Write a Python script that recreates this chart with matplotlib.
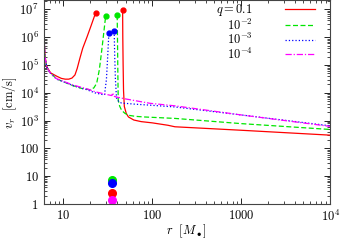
import matplotlib
matplotlib.use('Agg')
import matplotlib.pyplot as plt
from matplotlib.ticker import FixedLocator, LogLocator, NullFormatter

plt.rcParams['mathtext.fontset'] = 'cm'
plt.rcParams['font.family'] = 'serif'
plt.rcParams['font.size'] = 8

# q = 0.1 : inner and outer branches
r_q1_in = [6.0, 6.06, 6.2, 6.5, 7.2, 8.5, 9.5, 10.5, 11.5, 12.5, 13.5, 14.3, 15.3, 16.5, 18.4, 20.5, 23.1]
v_q1_in = [2e7, 1e6, 2.2e5, 8.5e4, 5.2e4, 3.9e4, 3.3e4, 3.1e4, 3.1e4, 3.4e4, 4.4e4, 7.5e4, 1.7e5, 4.0e5, 1.0e6, 2.6e6, 7.7e6]
r_q1_out = [46.4, 46.6, 47.0, 47.5, 48.5, 51, 54, 62, 75, 100, 150, 180, 1000, 1e4]
v_q1_out = [9.2e6, 1e6, 1e5, 1.2e4, 3.2e3, 1.8e3, 1.35e3, 1.05e3, 920, 830, 680, 600, 450, 300]

# q = 1e-2
r_q2_in = [6.0, 6.08, 6.2, 6.5, 7.0, 8.4, 10, 12.9, 16.5, 19.9, 22.0, 23.7, 25.3, 26.2, 27.5, 29.9]
v_q2_in = [2e7, 1e6, 2e5, 8.5e4, 5.5e4, 3.2e4, 2.5e4, 1.8e4, 1.4e4, 1.3e4, 1.5e4, 2.2e4, 6.4e4, 1.5e5, 5.5e5, 5.8e6]
r_q2_out = [40.3, 40.6, 41.0, 41.4, 43, 45.2, 49, 53.7, 65, 82.6, 180, 1000, 1e4]
v_q2_out = [6.2e6, 1e6, 5e4, 5.4e3, 3.3e3, 2.35e3, 1.85e3, 1.56e3, 1.42e3, 1.35e3, 1.2e3, 780, 480]

# q = 1e-3
r_q3_in = [6.0, 6.08, 6.2, 6.5, 7.0, 8.4, 10, 12.9, 18.3, 22.6, 26, 29.0, 30.5, 31.5, 32.5]
v_q3_in = [2e7, 1e6, 2e5, 8.5e4, 5.4e4, 3.1e4, 2.5e4, 1.8e4, 1.3e4, 1.0e4, 9.0e3, 8.4e3, 3e4, 2e5, 1.45e6]
r_q3_out = [37.3, 37.8, 38.5, 39.6, 42, 45, 64, 94, 180, 1000, 1e4]
v_q3_out = [1.62e6, 2e5, 3e4, 6.5e3, 4.8e3, 4.3e3, 3.9e3, 3.6e3, 3.1e3, 1.6e3, 650]

# q = 1e-4
r_q4 = [6.0, 6.08, 6.2, 6.5, 7.0, 8.4, 10, 12.9, 18.3, 22.6, 30, 34, 35.2, 35.5, 36.2, 36.5, 40, 49, 94, 180, 1000, 1e4]
v_q4 = [2e7, 1e6, 2e5, 8.5e4, 5.5e4, 3.2e4, 2.6e4, 1.9e4, 1.4e4, 1.1e4, 8.9e3, 8.1e3, 8.0e3, 9.8e3, 9.6e3, 7.6e3, 7.0e3, 6.1e3, 4.2e3, 3.4e3, 1.6e3, 620]

# peak markers
r_peak_q1 = [23.1, 46.4]
v_peak_q1 = [7.7e6, 9.2e6]
r_peak_q2 = [29.9, 40.3]
v_peak_q2 = [5.8e6, 6.2e6]
r_peak_q3 = [32.5, 37.3]
v_peak_q3 = [1.45e6, 1.62e6]

# markers near the bottom
r_dot = 35.1
v_dot_q2 = 7.3
v_dot_q3 = 5.7
v_dot_q1 = 2.5
v_dot_q4 = 1.4

red = '#ff0000'
green = '#00e600'
blue = '#0000ff'
magenta = '#ff00ff'

fig = plt.figure(figsize=(3.41, 2.40), dpi=100)
ax = fig.add_axes([0.128, 0.15, 0.84, 0.848])

ax.plot(r_q1_in, v_q1_in, '-', color=red, lw=0.9, label='$q=0.1$')
ax.plot(r_q1_out, v_q1_out, '-', color=red, lw=0.9)
ax.plot(r_q2_in, v_q2_in, '--', color=green, lw=0.9, dashes=(4, 2), label='$10^{-2}$')
ax.plot(r_q2_out, v_q2_out, '--', color=green, lw=0.9, dashes=(4, 2))
ax.plot(r_q3_in, v_q3_in, ':', color=blue, lw=0.9, label='$10^{-3}$')
ax.plot(r_q3_out, v_q3_out, ':', color=blue, lw=0.9)
ax.plot(r_q4, v_q4, '-.', color=magenta, lw=0.9, dashes=(5, 1.5, 1, 1.5), label='$10^{-4}$')

ax.plot(r_peak_q1, v_peak_q1, 'o', color=red, ms=3.5, ls='none')
ax.plot(r_peak_q2, v_peak_q2, 'o', color=green, ms=3.5, ls='none')
ax.plot(r_peak_q3, v_peak_q3, 'o', color=blue, ms=3.5, ls='none')

ax.plot([r_dot], [v_dot_q2], 'o', color=green, ms=5.5)
ax.plot([r_dot], [v_dot_q3], 'o', color=blue, ms=5.5)
ax.plot([r_dot], [v_dot_q1], 'o', color=red, ms=5.5)
ax.plot([r_dot], [v_dot_q4], 'o', color=magenta, ms=5.5)

ax.set_xscale('log')
ax.set_yscale('log')
ax.set_xlim(6.0, 1e4)
ax.set_ylim(1, 2.1e7)

ax.xaxis.set_major_locator(FixedLocator([10, 100, 1000, 1e4]))
ax.set_xticklabels(['$10$', '$100$', '$1000$', '$10^4$'])
ax.xaxis.set_minor_locator(LogLocator(base=10, subs=range(2, 10)))
ax.xaxis.set_minor_formatter(NullFormatter())
ax.yaxis.set_major_locator(FixedLocator([1, 10, 100, 1e3, 1e4, 1e5, 1e6, 1e7]))
ax.set_yticklabels(['$1$', '$10$', '$100$', '$10^3$', '$10^4$', '$10^5$', '$10^6$', '$10^7$'])
ax.yaxis.set_minor_locator(LogLocator(base=10, subs=range(2, 10)))
ax.yaxis.set_minor_formatter(NullFormatter())

ax.tick_params(which='both', direction='in', top=True, right=True, labelsize=9)
ax.tick_params(which='major', length=4, width=0.6)
ax.tick_params(which='minor', length=2, width=0.5)
for s in ax.spines.values():
    s.set_linewidth(0.8)
    s.set_color('#444444')

ax.set_xlabel(r'$r\ \ [M_\bullet]$', fontsize=9, labelpad=-1)
ax.set_ylabel(r'$v_r\ \ [\mathrm{cm/s}]$', fontsize=9, labelpad=0)

ax.legend(loc='upper right', bbox_to_anchor=(0.955, 1.0), frameon=False,
          markerfirst=False, fontsize=9, handlelength=2.4, handletextpad=2.6,
          labelspacing=-0.05, borderaxespad=0.0, borderpad=0.15)

fig.savefig('out.png', dpi=100)
